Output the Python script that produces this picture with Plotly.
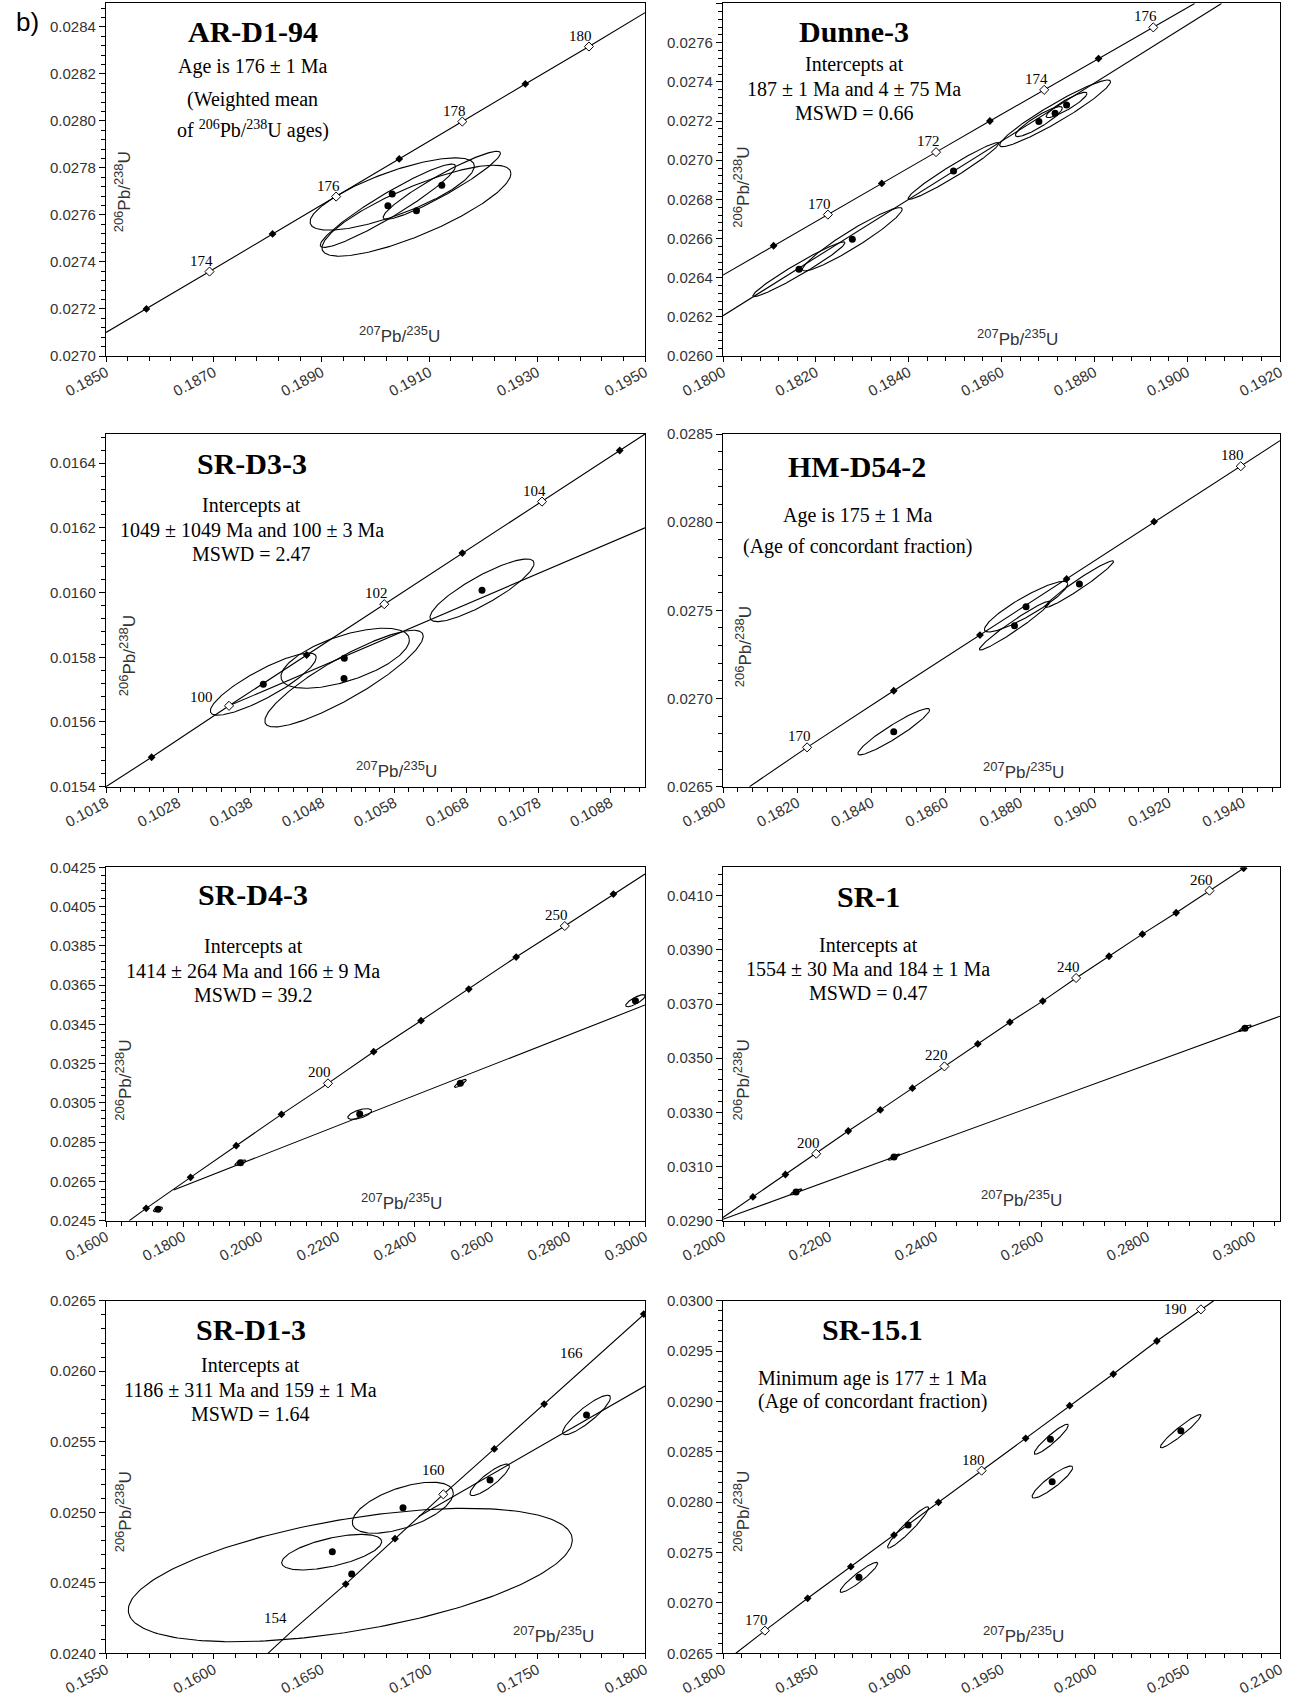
import numpy as np
import plotly.graph_objects as go

# ======================= DATA =======================
# ---- Panel 1: AR-D1-94 ----
p1_conc_age = [173, 174, 175, 176, 177, 178, 179, 180]
p1_conc_x = [0.18575, 0.18692, 0.18809, 0.18927, 0.19044, 0.19161, 0.19278, 0.19396]
p1_conc_y = [0.027200, 0.027359, 0.027519, 0.027678, 0.027838, 0.027997, 0.028157, 0.028316]
p1_conc_kind = ["f", "o", "f", "o", "f", "o", "f", "o"]
p1_conc_end_x = [0.1850, 0.1950]
p1_conc_end_y = [0.02710, 0.02846]
p1_disc_x = []
p1_disc_y = []
p1_pt_x = [0.19031, 0.19023, 0.19076, 0.19123]
p1_pt_y = [0.027689, 0.027639, 0.027618, 0.027726]
p1_ell_cx = [0.19031, 0.19023, 0.19076, 0.19123]
p1_ell_cy = [0.027689, 0.027639, 0.027618, 0.027726]
p1_ell_sx = [0.001524, 0.001255, 0.001753, 0.001088]
p1_ell_sy = [0.0001538, 0.0001772, 0.0001935, 0.0001446]
p1_ell_rho = [0.77, 0.944, 0.817, 0.94]

# ---- Panel 2: Dunne-3 ----
p2_conc_age = [169, 170, 171, 172, 173, 174, 175, 176]
p2_conc_x = [0.18109, 0.18226, 0.18342, 0.18459, 0.18575, 0.18692, 0.18809, 0.18927]
p2_conc_y = [0.026563, 0.026722, 0.026881, 0.027041, 0.027200, 0.027359, 0.027519, 0.027678]
p2_conc_kind = ["f", "o", "f", "o", "f", "o", "f", "o"]
p2_conc_end_x = [0.1800, 0.19016]
p2_conc_end_y = [0.026413, 0.0278]
p2_disc_x = [0.1800, 0.19074]
p2_disc_y = [0.026206, 0.0278]
p2_pt_x = [0.181637, 0.182786, 0.184966, 0.186805, 0.187154, 0.187402]
p2_pt_y = [0.026443, 0.026596, 0.026945, 0.027197, 0.027239, 0.027282]
p2_ell_cx = [0.181637, 0.182786, 0.184966, 0.186805, 0.187154, 0.187402]
p2_ell_cy = [0.026443, 0.026596, 0.026945, 0.027197, 0.027239, 0.027282]
p2_ell_sx = [0.000993, 0.001076, 0.000979, 0.000506, 0.001195, 0.000441]
p2_ell_sy = [0.0001396, 0.0001617, 0.0001447, 0.0000766, 0.0001702, 0.0000647]
p2_ell_rho = [0.97, 0.95, 0.97, 0.90, 0.95, 0.90]

# ---- Panel 3: SR-D3-3 ----
p3_conc_age = [99, 100, 101, 102, 103, 104, 105]
p3_conc_x = [0.102433, 0.103507, 0.104585, 0.105662, 0.106745, 0.107851, 0.108929]
p3_conc_y = [0.015491, 0.015650, 0.015807, 0.015964, 0.016122, 0.016281, 0.016439]
p3_conc_kind = ["f", "o", "f", "o", "f", "o", "f"]
p3_conc_end_x = [0.1018, 0.10928]
p3_conc_end_y = [0.01540, 0.01649]
p3_disc_x = [0.103507, 0.10928]
p3_disc_y = [0.015650, 0.016200]
p3_pt_x = [0.103983, 0.105107, 0.105103, 0.107018]
p3_pt_y = [0.015717, 0.015797, 0.015734, 0.016007]
p3_ell_cx = [0.103983, 0.105119, 0.105103, 0.107018]
p3_ell_cy = [0.015717, 0.015797, 0.015734, 0.016007]
p3_ell_sx = [0.000735, 0.000891, 0.001099, 0.000722]
p3_ell_sy = [0.0000959, 0.0000928, 0.0001494, 0.0000968]
p3_ell_rho = [0.86, 0.61, 0.876, 0.86]

# ---- Panel 4: HM-D54-2 ----
p4_conc_age = [170, 172, 174, 176, 178, 180]
p4_conc_x = [0.182264, 0.184598, 0.186920, 0.189253, 0.191609, 0.193943]
p4_conc_y = [0.026723, 0.027044, 0.027360, 0.027678, 0.028003, 0.028317]
p4_conc_kind = ["o", "f", "f", "f", "f", "o"]
p4_conc_end_x = [0.180713, 0.1950]
p4_conc_end_y = [0.02650, 0.028462]
p4_disc_x = []
p4_disc_y = []
p4_pt_x = [0.184598, 0.188161, 0.187851, 0.189598]
p4_pt_y = [0.026812, 0.027521, 0.027413, 0.027649]
p4_ell_cx = [0.184598, 0.188161, 0.187851, 0.189598]
p4_ell_cy = [0.026812, 0.027521, 0.027413, 0.027649]
p4_ell_sx = [0.000966, 0.001121, 0.000948, 0.000920]
p4_ell_sy = [0.0001314, 0.0001437, 0.000138, 0.000132]
p4_ell_rho = [0.94, 0.90, 0.97, 0.97]

# ---- Panel 5: SR-D4-3 ----
p5_conc_age = [160, 170, 180, 190, 200, 210, 220, 230, 240, 250, 260]
p5_conc_x = [0.170434, 0.181966, 0.193827, 0.205579, 0.217661, 0.229522,
             0.241823, 0.254234, 0.266535, 0.279165, 0.291796]
p5_conc_y = [0.025128, 0.026707, 0.028320, 0.029916, 0.031495, 0.033108,
             0.034686, 0.036299, 0.037929, 0.039508, 0.041138]
p5_conc_kind = ["f", "f", "f", "f", "o", "f", "f", "f", "f", "o", "f"]
p5_conc_end_x = [0.16604, 0.3000]
p5_conc_end_y = [0.02450, 0.042157]
p5_disc_x = [0.177573, 0.3000]
p5_disc_y = [0.026062, 0.035485]
p5_pt_x = [0.173509, 0.194926, 0.225898, 0.252037, 0.297506]
p5_pt_y = [0.025077, 0.027454, 0.029933, 0.031495, 0.035705]
p5_ell_cx = [0.173509, 0.194926, 0.225898, 0.252037, 0.297506]
p5_ell_cy = [0.025077, 0.027454, 0.029933, 0.031495, 0.035705]
p5_ell_sx = [0.00121, 0.00143, 0.00310, 0.00154, 0.00253]
p5_ell_sy = [0.000119, 0.000136, 0.000272, 0.000204, 0.000306]
p5_ell_rho = [0.60, 0.70, 0.60, 0.85, 0.80]

# ---- Panel 6: SR-1 ----
p6_conc_age = [190, 195, 200, 205, 210, 215, 220, 225, 230, 235, 240, 245, 250, 255, 260, 265]
p6_conc_x = [0.205645, 0.211774, 0.217581, 0.223629, 0.229677, 0.235726, 0.241774, 0.248065,
             0.254113, 0.260323, 0.266613, 0.272823, 0.279113, 0.285484, 0.291774, 0.298226]
p6_conc_y = [0.029878, 0.030706, 0.031472, 0.032313, 0.033091, 0.033895, 0.034698, 0.035526,
             0.036330, 0.037109, 0.037962, 0.038765, 0.039581, 0.040372, 0.041187, 0.042015]
p6_conc_kind = ["f", "f", "o", "f", "f", "f", "o", "f", "f", "f", "o", "f", "f", "f", "o", "f"]
p6_conc_end_x = [0.2000, 0.2985]
p6_conc_end_y = [0.02912, 0.04205]
p6_disc_x = [0.2000, 0.30508]
p6_disc_y = [0.02905, 0.036553]
p6_pt_x = [0.213790, 0.232260, 0.298474]
p6_pt_y = [0.030063, 0.031348, 0.036107]
p6_ell_cx = [0.213790, 0.232260, 0.298474]
p6_ell_cy = [0.030063, 0.031348, 0.036107]
p6_ell_sx = [0.00110, 0.00110, 0.00120]
p6_ell_sy = [0.00011, 0.00011, 0.00012]
p6_ell_rho = [0.85, 0.85, 0.85]

# ---- Panel 7: SR-D1-3 ----
p7_conc_age = [154, 156, 158, 160, 162, 164, 166, 168]
p7_conc_x = [0.163760, 0.166118, 0.168404, 0.170645, 0.173010, 0.175322, 0.177607, 0.179941]
p7_conc_y = [0.024177, 0.024491, 0.024813, 0.025127, 0.025449, 0.025767, 0.026085, 0.026405]
p7_conc_kind = ["n", "f", "f", "o", "f", "f", "n", "f"]
p7_conc_end_x = [0.16251, 0.1800]
p7_conc_end_y = [0.02400, 0.02641]
p7_disc_x = [0.16950, 0.1800]
p7_disc_y = [0.02497, 0.025895]
p7_pt_x = [0.165497, 0.166396, 0.168775, 0.172811, 0.177288]
p7_pt_y = [0.024720, 0.024562, 0.025032, 0.025229, 0.025690]
p7_ell_cx = [0.165468, 0.166331, 0.168766, 0.172796, 0.177288]
p7_ell_cy = [0.024717, 0.024555, 0.025032, 0.025230, 0.025690]
p7_ell_sx = [0.002319, 0.010297, 0.002342, 0.000914, 0.001110]
p7_ell_sy = [0.000126, 0.000473, 0.000181, 0.000112, 0.000140]
p7_ell_rho = [0.59, 0.525, 0.57, 0.87, 0.88]

# ---- Panel 8: SR-15.1 ----
p8_conc_age = [170, 172, 174, 176, 178, 180, 182, 184, 186, 188, 190]
p8_conc_x = [0.182256, 0.184559, 0.186884, 0.189210, 0.191604, 0.193929,
             0.196301, 0.198672, 0.201021, 0.203369, 0.205741]
p8_conc_y = [0.026725, 0.027046, 0.027360, 0.027674, 0.027999, 0.028313,
             0.028634, 0.028958, 0.029272, 0.029600, 0.029914]
p8_conc_kind = ["o", "f", "f", "f", "f", "o", "f", "f", "f", "f", "o"]
p8_conc_end_x = [0.18069, 0.20643]
p8_conc_end_y = [0.02650, 0.03000]
p8_disc_x = []
p8_disc_y = []
p8_pt_x = [0.187322, 0.189969, 0.197636, 0.197728, 0.204659]
p8_pt_y = [0.027254, 0.027774, 0.028624, 0.028204, 0.028710]
p8_ell_cx = [0.187322, 0.189969, 0.197682, 0.197740, 0.204647]
p8_ell_cy = [0.027254, 0.027750, 0.028625, 0.028200, 0.028705]
p8_ell_sx = [0.001013, 0.001105, 0.000921, 0.001094, 0.001094]
p8_ell_sy = [0.000149, 0.000205, 0.000149, 0.000159, 0.000165]
p8_ell_rho = [0.93, 0.95, 0.93, 0.90, 0.95]

# texts
p1_title, p1_lines = "AR-D1-94", ["Age is 176 ± 1 Ma", "(Weighted mean", "of <sup>206</sup>Pb/<sup>238</sup>U ages)"]
p2_title, p2_lines = "Dunne-3", ["Intercepts at", "187 ± 1 Ma and 4 ± 75 Ma", "MSWD = 0.66"]
p3_title, p3_lines = "SR-D3-3", ["Intercepts at", "1049 ± 1049 Ma and 100 ± 3 Ma", "MSWD = 2.47"]
p4_title, p4_lines = "HM-D54-2", ["Age is 175 ± 1 Ma", "(Age of concordant fraction)"]
p5_title, p5_lines = "SR-D4-3", ["Intercepts at", "1414 ± 264 Ma and 166 ± 9 Ma", "MSWD = 39.2"]
p6_title, p6_lines = "SR-1", ["Intercepts at", "1554 ± 30 Ma and 184 ± 1 Ma", "MSWD = 0.47"]
p7_title, p7_lines = "SR-D1-3", ["Intercepts at", "1186 ± 311 Ma and 159 ± 1 Ma", "MSWD = 1.64"]
p8_title, p8_lines = "SR-15.1", ["Minimum age is 177 ± 1 Ma", "(Age of concordant fraction)"]

SUPSPAN = "<sup><span style='font-size:13px'>{}</span></sup>"
X_LABEL = SUPSPAN.format("207") + "Pb/" + SUPSPAN.format("235") + "U"
Y_LABEL = SUPSPAN.format("206") + "Pb/" + SUPSPAN.format("238") + "U"

# ======================= LAYOUT / STYLE =======================
W, H = 1296, 1698
COL_X = [(106, 645), (723, 1280)]
ROW_Y = [(3.3, 356.0), (434.0, 786.7), (867.3, 1220.7), (1300.7, 1653.3)]

SERIF = "Liberation Serif"
SANS = "Liberation Sans"

panels = [
    dict(d=dict(ca=p1_conc_age, cx=p1_conc_x, cy=p1_conc_y, ck=p1_conc_kind, ex=p1_conc_end_x, ey=p1_conc_end_y,
                dx=p1_disc_x, dy=p1_disc_y, px=p1_pt_x, py=p1_pt_y,
                ell=(p1_ell_cx, p1_ell_cy, p1_ell_sx, p1_ell_sy, p1_ell_rho)),
         title=p1_title, lines=p1_lines, tpos=(0.272, 0.921), lpos=[0.822, 0.728, 0.642],
         xr=[0.1850, 0.1950], yr=[0.0270, 0.0285], xt=(0.185, 0.002, 0.0004), yt=(0.027, 0.0002, 0.00004),
         vl=(0.031, 0.466), hl=(0.545, 0.062), lab_shift={}),
    dict(d=dict(ca=p2_conc_age, cx=p2_conc_x, cy=p2_conc_y, ck=p2_conc_kind, ex=p2_conc_end_x, ey=p2_conc_end_y,
                dx=p2_disc_x, dy=p2_disc_y, px=p2_pt_x, py=p2_pt_y,
                ell=(p2_ell_cx, p2_ell_cy, p2_ell_sx, p2_ell_sy, p2_ell_rho)),
         title=p2_title, lines=p2_lines, tpos=(0.236, 0.920), lpos=[0.827, 0.756, 0.688],
         xr=[0.1800, 0.1920], yr=[0.0260, 0.027801], xt=(0.18, 0.002, 0.0004), yt=(0.026, 0.0002, 0.00004),
         vl=(0.034, 0.48), hl=(0.529, 0.053), lab_shift={}),
    dict(d=dict(ca=p3_conc_age, cx=p3_conc_x, cy=p3_conc_y, ck=p3_conc_kind, ex=p3_conc_end_x, ey=p3_conc_end_y,
                dx=p3_disc_x, dy=p3_disc_y, px=p3_pt_x, py=p3_pt_y,
                ell=(p3_ell_cx, p3_ell_cy, p3_ell_sx, p3_ell_sy, p3_ell_rho)),
         title=p3_title, lines=p3_lines, tpos=(0.270, 0.917), lpos=[0.796, 0.728, 0.660],
         xr=[0.1018, 0.10928], yr=[0.0154, 0.01649], xt=(0.1018, 0.001, 0.0002), yt=(0.0154, 0.0002, 0.00004),
         vl=(0.039, 0.37), hl=(0.539, 0.049), lab_shift={100: (-28, 9)}),
    dict(d=dict(ca=p4_conc_age, cx=p4_conc_x, cy=p4_conc_y, ck=p4_conc_kind, ex=p4_conc_end_x, ey=p4_conc_end_y,
                dx=p4_disc_x, dy=p4_disc_y, px=p4_pt_x, py=p4_pt_y,
                ell=(p4_ell_cx, p4_ell_cy, p4_ell_sx, p4_ell_sy, p4_ell_rho)),
         title=p4_title, lines=p4_lines, tpos=(0.241, 0.907), lpos=[0.770, 0.680],
         xr=[0.1800, 0.1950], yr=[0.0265, 0.0285], xt=(0.18, 0.002, 0.0004), yt=(0.0265, 0.0005, 0.0001),
         vl=(0.037, 0.397), hl=(0.54, 0.046), lab_shift={}),
    dict(d=dict(ca=p5_conc_age, cx=p5_conc_x, cy=p5_conc_y, ck=p5_conc_kind, ex=p5_conc_end_x, ey=p5_conc_end_y,
                dx=p5_disc_x, dy=p5_disc_y, px=p5_pt_x, py=p5_pt_y,
                ell=(p5_ell_cx, p5_ell_cy, p5_ell_sx, p5_ell_sy, p5_ell_rho)),
         title=p5_title, lines=p5_lines, tpos=(0.273, 0.922), lpos=[0.775, 0.707, 0.639],
         xr=[0.1600, 0.3000], yr=[0.0245, 0.0425], xt=(0.16, 0.02, 0.004), yt=(0.0245, 0.002, 0.0004),
         vl=(0.031, 0.398), hl=(0.549, 0.054), lab_shift={}),
    dict(d=dict(ca=p6_conc_age, cx=p6_conc_x, cy=p6_conc_y, ck=p6_conc_kind, ex=p6_conc_end_x, ey=p6_conc_end_y,
                dx=p6_disc_x, dy=p6_disc_y, px=p6_pt_x, py=p6_pt_y,
                ell=(p6_ell_cx, p6_ell_cy, p6_ell_sx, p6_ell_sy, p6_ell_rho)),
         title=p6_title, lines=p6_lines, tpos=(0.261, 0.917), lpos=[0.780, 0.712, 0.643],
         xr=[0.2000, 0.30508], yr=[0.0290, 0.04205], xt=(0.2, 0.02, 0.004), yt=(0.029, 0.002, 0.0004),
         vl=(0.033, 0.398), hl=(0.536, 0.063), lab_shift={}),
    dict(d=dict(ca=p7_conc_age, cx=p7_conc_x, cy=p7_conc_y, ck=p7_conc_kind, ex=p7_conc_end_x, ey=p7_conc_end_y,
                dx=p7_disc_x, dy=p7_disc_y, px=p7_pt_x, py=p7_pt_y,
                ell=(p7_ell_cx, p7_ell_cy, p7_ell_sx, p7_ell_sy, p7_ell_rho)),
         title=p7_title, lines=p7_lines, tpos=(0.269, 0.919), lpos=[0.815, 0.747, 0.679],
         xr=[0.1550, 0.1800], yr=[0.0240, 0.0265], xt=(0.155, 0.005, 0.001), yt=(0.024, 0.0005, 0.0001),
         vl=(0.033, 0.402), hl=(0.831, 0.052), lab_shift={154: (-19, 10), 160: (-10, 24), 166: (-22, 6)}),
    dict(d=dict(ca=p8_conc_age, cx=p8_conc_x, cy=p8_conc_y, ck=p8_conc_kind, ex=p8_conc_end_x, ey=p8_conc_end_y,
                dx=p8_disc_x, dy=p8_disc_y, px=p8_pt_x, py=p8_pt_y,
                ell=(p8_ell_cx, p8_ell_cy, p8_ell_sx, p8_ell_sy, p8_ell_rho)),
         title=p8_title, lines=p8_lines, tpos=(0.269, 0.917), lpos=[0.780, 0.714],
         xr=[0.1800, 0.2100], yr=[0.0265, 0.0300], xt=(0.18, 0.005, 0.001), yt=(0.0265, 0.0005, 0.0001),
         vl=(0.033, 0.402), hl=(0.54, 0.052), lab_shift={190: (-25, 0)}),
]


def ellipse_path(cx, cy, sx, sy, rho):
    xs, ys = [], []
    t = np.linspace(0, 2 * np.pi, 241)
    for a, b, c, d, r in zip(cx, cy, sx, sy, rho):
        xs += list(a + c * np.cos(t)) + [None]
        ys += list(b + d * (r * np.cos(t) + np.sqrt(1 - r * r) * np.sin(t))) + [None]
    return xs, ys


fig = go.Figure()
annotations = []
layout_axes = {}

for i, P in enumerate(panels, start=1):
    row, col = (i - 1) // 2, (i - 1) % 2
    x0, x1 = COL_X[col]
    y0, y1 = ROW_Y[row]
    xname = "x" if i == 1 else f"x{i}"
    yname = "y" if i == 1 else f"y{i}"
    xkey = "xaxis" if i == 1 else f"xaxis{i}"
    ykey = "yaxis" if i == 1 else f"yaxis{i}"
    d = P["d"]

    ex, ey = ellipse_path(*d["ell"])
    fig.add_trace(go.Scatter(x=ex, y=ey, mode="lines", line=dict(color="black", width=1.1),
                             xaxis=xname, yaxis=yname, hoverinfo="skip", showlegend=False))
    lx = [d["ex"][0]] + list(d["cx"]) + [d["ex"][1]]
    ly = [d["ey"][0]] + list(d["cy"]) + [d["ey"][1]]
    fig.add_trace(go.Scatter(x=lx, y=ly, mode="lines", line=dict(color="black", width=1.1),
                             xaxis=xname, yaxis=yname, hoverinfo="skip", showlegend=False))
    if d["dx"]:
        fig.add_trace(go.Scatter(x=d["dx"], y=d["dy"], mode="lines", line=dict(color="black", width=1.1),
                                 xaxis=xname, yaxis=yname, hoverinfo="skip", showlegend=False))
    fx = [x for x, k in zip(d["cx"], d["ck"]) if k == "f"]
    fy = [y for y, k in zip(d["cy"], d["ck"]) if k == "f"]
    ox = [x for x, k in zip(d["cx"], d["ck"]) if k == "o"]
    oy = [y for y, k in zip(d["cy"], d["ck"]) if k == "o"]
    fig.add_trace(go.Scatter(x=fx, y=fy, mode="markers",
                             marker=dict(symbol="diamond", size=6, color="black"),
                             xaxis=xname, yaxis=yname, hoverinfo="skip", showlegend=False))
    fig.add_trace(go.Scatter(x=ox, y=oy, mode="markers",
                             marker=dict(symbol="diamond", size=7, color="white",
                                         line=dict(color="black", width=1)),
                             xaxis=xname, yaxis=yname, hoverinfo="skip", showlegend=False))
    fig.add_trace(go.Scatter(x=d["px"], y=d["py"], mode="markers",
                             marker=dict(symbol="circle", size=7, color="black"),
                             xaxis=xname, yaxis=yname, hoverinfo="skip", showlegend=False))
    for a, x, y, k in zip(d["ca"], d["cx"], d["cy"], d["ck"]):
        if k in ("o", "n"):
            sx, sy = P["lab_shift"].get(a, (-8, 11))
            annotations.append(dict(x=x, y=y, xref=xname, yref=yname, text=str(a), showarrow=False,
                                    xanchor="center", yanchor="middle",
                                    xshift=sx, yshift=sy, font=dict(family=SERIF, size=15, color="black")))

    dom_x = f"{xname} domain"
    dom_y = f"{yname} domain"
    annotations.append(dict(x=P["tpos"][0], y=P["tpos"][1], xref=dom_x, yref=dom_y,
                            text=f"<b>{P['title']}</b>", showarrow=False, xanchor="center", yanchor="middle",
                            font=dict(family=SERIF, size=30, color="black")))
    for txt, yy in zip(P["lines"], P["lpos"]):
        annotations.append(dict(x=P["tpos"][0], y=yy, xref=dom_x, yref=dom_y, text=txt, showarrow=False,
                                xanchor="center", yanchor="middle",
                                font=dict(family=SERIF, size=20, color="black")))
    annotations.append(dict(x=P["hl"][0], y=P["hl"][1], xref=dom_x, yref=dom_y, text=X_LABEL,
                            showarrow=False, xanchor="center", yanchor="middle",
                            font=dict(family=SANS, size=17, color="#333")))
    annotations.append(dict(x=P["vl"][0], y=P["vl"][1], xref=dom_x, yref=dom_y, text=Y_LABEL,
                            showarrow=False, textangle=-90, xanchor="center", yanchor="middle",
                            font=dict(family=SANS, size=17, color="#333")))

    axis_common = dict(showline=True, linecolor="black", linewidth=1.2, mirror=True, automargin=False,
                       showgrid=False, zeroline=False, ticks="outside", ticklen=6, tickwidth=1,
                       tickcolor="black", tickformat=".4f",
                       tickfont=dict(family=SANS, size=15, color="#333"))
    layout_axes[xkey] = dict(axis_common, domain=[x0 / W, x1 / W], range=P["xr"], anchor=yname,
                             tick0=P["xt"][0], dtick=P["xt"][1], tickangle=-28, ticklen=5,
                             ticklabelstandoff=-4,
                             minor=dict(tick0=P["xt"][0], dtick=P["xt"][2], ticks="outside",
                                        ticklen=4, tickcolor="black", showgrid=False))
    layout_axes[ykey] = dict(axis_common, domain=[1 - y1 / H, 1 - y0 / H], range=P["yr"], anchor=xname,
                             tick0=P["yt"][0], dtick=P["yt"][1],
                             minor=dict(tick0=P["yt"][0], dtick=P["yt"][2], ticks="outside",
                                        ticklen=4, tickcolor="black", showgrid=False))

annotations.append(dict(x=27 / W, y=1 - 22 / H, xref="paper", yref="paper", text="b)", showarrow=False,
                        xanchor="center", yanchor="middle",
                        font=dict(family=SANS, size=26, color="black")))

fig.update_layout(width=W, height=H, margin=dict(l=0, r=0, t=0, b=0, autoexpand=False),
                  paper_bgcolor="white", plot_bgcolor="white", showlegend=False,
                  annotations=annotations, **layout_axes)

fig.write_html("out.html", config={"displayModeBar": False},
               post_script="document.body.style.margin='0';document.body.style.padding='0';"
                           "document.documentElement.style.margin='0';")
